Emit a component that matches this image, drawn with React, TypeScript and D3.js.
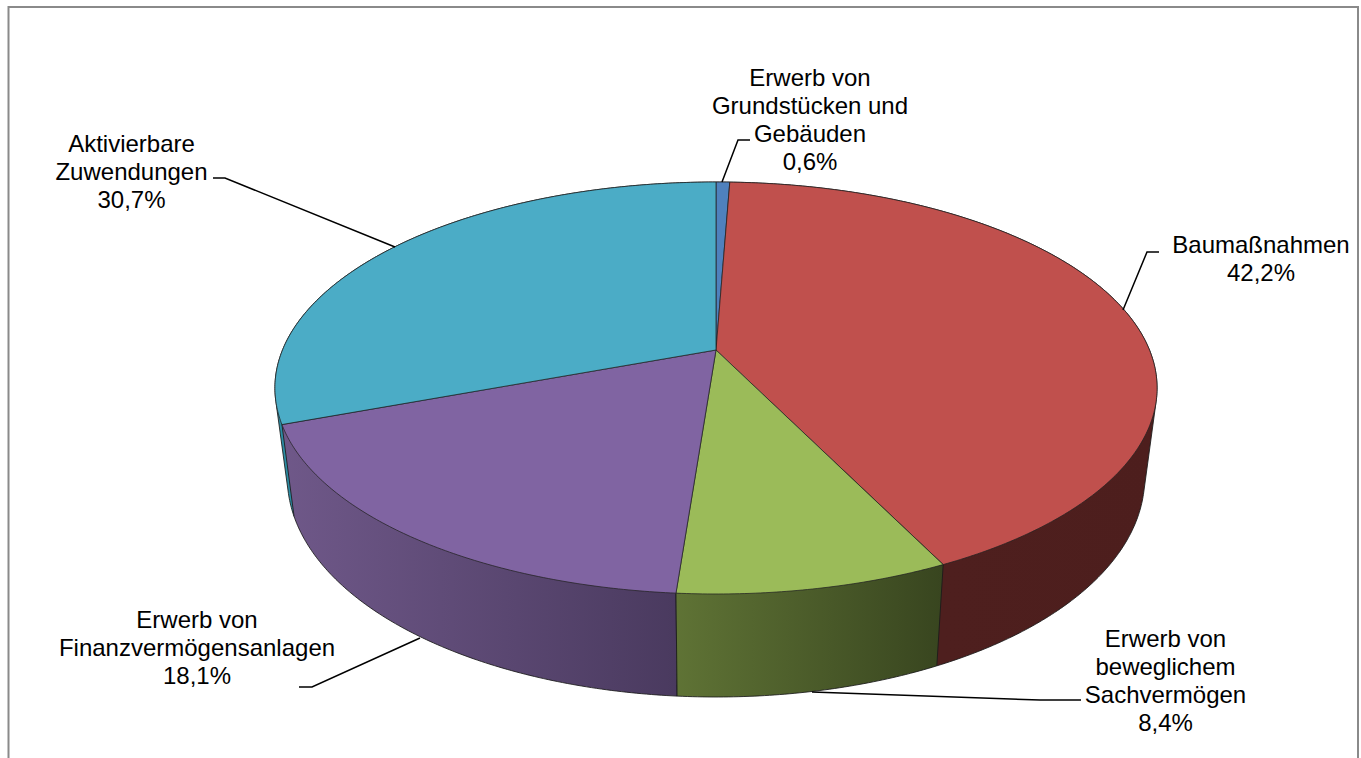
import React from "react";
import * as d3 from "d3";

const categories = [
  "Erwerb von Grundstücken und Gebäuden",
  "Baumaßnahmen",
  "Erwerb von beweglichem Sachvermögen",
  "Erwerb von Finanzvermögensanlagen",
  "Aktivierbare Zuwendungen",
];
const shares = [0.6, 42.2, 8.4, 18.1, 30.7];
const topColors = ["#4f81bd", "#c0504d", "#9bbb59", "#8064a2", "#4bacc6"];
const sideFrom = ["#2f4d72", "#4f201f", "#5f7335", "#6f5889", "#2b8ca3"];
const sideTo = ["#2f4d72", "#4d1e1d", "#38451f", "#4a3a5f", "#2b8ca3"];
// Wall painting order, back of the disc first.
const sideOrder = [4, 0, 1, 3, 2];

const labelLines = [
  ["Erwerb von", "Grundstücken und", "Gebäuden", "0,6%"],
  ["Baumaßnahmen", "42,2%"],
  ["Erwerb von", "beweglichem", "Sachvermögen", "8,4%"],
  ["Erwerb von", "Finanzvermögensanlagen", "18,1%"],
  ["Aktivierbare", "Zuwendungen", "30,7%"],
];
const labelCentres: [number, number][] = [
  [810, 86],
  [1261, 253],
  [1165.5, 647],
  [197, 628],
  [131.5, 151.5],
];
const leaders: [number, number][][] = [
  [[722, 182], [738, 140], [750, 140]],
  [[1123, 310], [1147, 252], [1159, 252]],
  [[812, 692], [1040, 700], [1081, 700]],
  [[420, 638], [312, 687], [299, 687]],
  [[395, 247], [225, 178], [213, 178]],
];

// The disc is a circle seen in perspective, so rim points go through a projective map.
const cx = 716;
const cy = 350;
const spreadX = 433.5;
const spreadY = 134.4;
const perspective = -0.1845;
const bottomShrink = 0.972;
const lineHeight = 28;

type Pt = [number, number];

function rimTop(angle: number): Pt {
  const u = Math.sin(angle);
  const v = -Math.cos(angle);
  const w = 1 + perspective * v;
  return [cx + (spreadX * u) / w, (spreadY * v + cy) / w];
}

function rimBottom(angle: number): Pt {
  const [x, y] = rimTop(angle);
  const v = -Math.cos(angle);
  return [cx + (x - cx) * bottomShrink, y + 86 + 17 * v];
}

function sampleAngles(a: number, b: number): number[] {
  const steps = Math.max(2, Math.ceil((b - a) / 0.01));
  return d3.range(steps + 1).map((i) => a + ((b - a) * i) / steps);
}

const toPath = d3.line<Pt>();

const pieLayout = d3.pie<number>().sort(null).startAngle(0).endAngle(2 * Math.PI);

export default function App() {
  const arcs = pieLayout(shares);
  const shapes = arcs.map((arc) => {
    const angles = sampleAngles(arc.startAngle, arc.endAngle);
    const topRim = angles.map(rimTop);
    const bottomRim = angles.map(rimBottom);
    // The hull gives each wall its straight silhouette between the two rims;
    // whatever it covers inside the disc is painted over by the top faces.
    const hull = d3.polygonHull([...topRim, ...bottomRim] as [number, number][])!;
    return {
      top: toPath([[cx, cy], ...topRim])! + "Z",
      side: toPath(hull as Pt[])! + "Z",
      x0: d3.min(topRim, (p) => p[0])!,
      x1: d3.max(topRim, (p) => p[0])!,
    };
  });

  return (
    <svg
      width={1361}
      height={758}
      style={{ position: "absolute", left: 0, top: 0, display: "block" }}
      fontFamily="'Liberation Sans', Arial, sans-serif"
    >
      <defs>
        {shapes.map((s, i) => (
          <linearGradient
            key={i}
            id={`side-${i}`}
            gradientUnits="userSpaceOnUse"
            x1={s.x0}
            x2={s.x1}
            y1={0}
            y2={0}
          >
            <stop offset="0" stopColor={sideFrom[i]} />
            <stop offset="1" stopColor={sideTo[i]} />
          </linearGradient>
        ))}
      </defs>
      <rect width={1361} height={758} fill="#fff" />
      <path d="M8.5 758V7H1358V758" fill="none" stroke="#8a8a8a" strokeWidth={2} />

      {sideOrder.map((i) => (
        <path
          key={categories[i] + "-side"}
          d={shapes[i].side}
          fill={`url(#side-${i})`}
          stroke="#1a1a1a"
          strokeOpacity={0.85}
          strokeWidth={1}
          strokeLinejoin="round"
        />
      ))}
      {shapes.map((s, i) => (
        <path
          key={categories[i]}
          d={s.top}
          fill={topColors[i]}
          stroke="#222"
          strokeOpacity={0.75}
          strokeWidth={1}
          strokeLinejoin="round"
        />
      ))}

      {leaders.map((pts, i) => (
        <path key={i} d={toPath(pts)!} fill="none" stroke="#000" strokeWidth={1.5} />
      ))}

      {labelLines.map((lines, i) => (
        <text key={i} textAnchor="middle" fontSize={24} fill="#000">
          {lines.map((line, j) => (
            <tspan key={j} x={labelCentres[i][0]} y={labelCentres[i][1] + j * lineHeight}>
              {line}
            </tspan>
          ))}
        </text>
      ))}
    </svg>
  );
}
